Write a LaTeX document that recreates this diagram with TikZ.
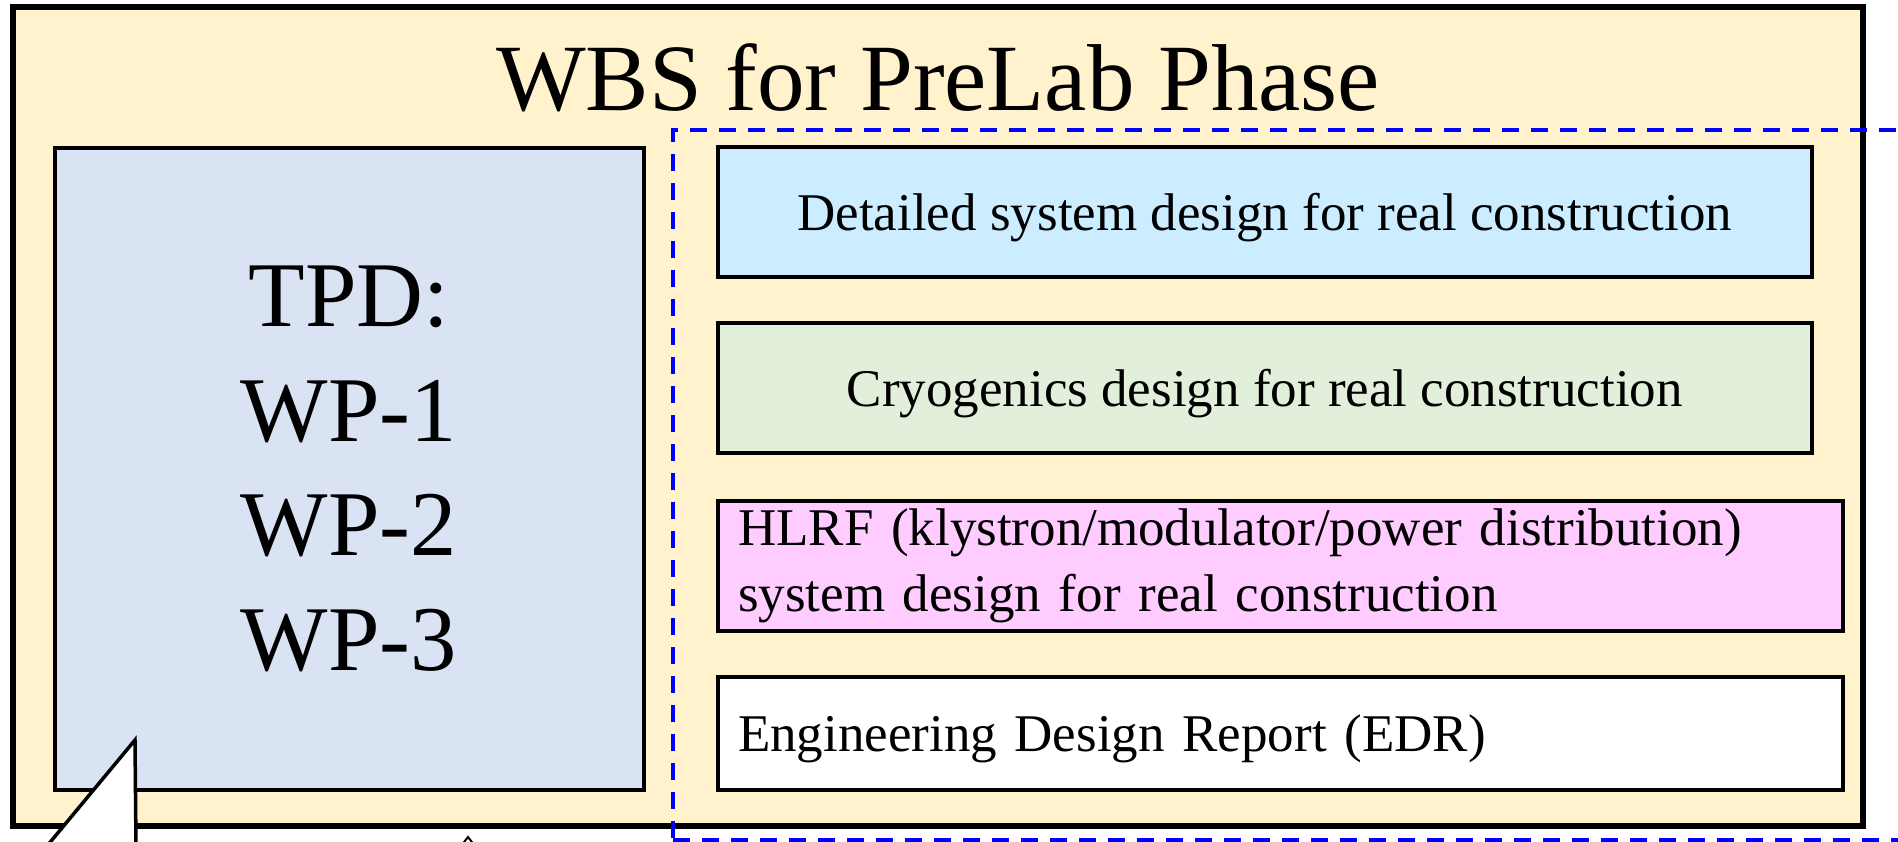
\documentclass[tikz,border=0pt]{standalone}
\usepackage{fontspec}
\setmainfont{Liberation Serif}

\definecolor{wbsyellow}{HTML}{FFF2CC}
\definecolor{tpdblue}{HTML}{DAE3F3}
\definecolor{designblue}{HTML}{CCECFF}
\definecolor{cryogreen}{HTML}{E2EFDA}
\definecolor{hlrfpink}{HTML}{FFCCFF}

\tikzset{
  taskbox/.style={draw=black,line width=4pt,inner sep=0pt,
    font=\fontsize{53}{66}\selectfont},
  oneline/.style={text depth=0pt},
  leftbox/.style={taskbox,inner xsep=20pt,text width=1085pt,align=left},
}

\begin{document}
\begin{tikzpicture}[x=1pt,y=-1pt]
    \useasboundingbox (0,0) rectangle (1898,842);
    \clip (0,0) rectangle (1898,842);

    \node[draw=black,line width=6.5pt,fill=wbsyellow,inner sep=0pt,
      minimum width=1850pt,minimum height=819pt] (wbs) at (938,416.5) {};
    \node[anchor=base,font=\fontsize{95}{114}\selectfont] (title) at (938,111) {WBS for PreLab Phase};

    \node[taskbox,fill=tpdblue,minimum width=589pt,minimum height=642pt,align=center,
      font=\fontsize{92.6}{114.5}\selectfont] (tpd) at (349,469) {TPD:\\WP-1\\WP-2\\WP-3};

    \node[draw=blue,line width=3.5pt,dash pattern=on 17pt off 12pt,inner sep=0pt,
      minimum width=1257pt,minimum height=710pt] (prelab) at (1301.5,485) {};

    \begin{scope}[every node/.style={taskbox,oneline,minimum width=1093.5pt,minimum height=129.5pt}]
      \node[fill=designblue] (detail) at (1264.75,212) {Detailed system design for real construction};
      \node[fill=cryogreen] (cryo) at (1264.75,388) {Cryogenics design for real construction};
    \end{scope}
    \node[leftbox,fill=hlrfpink,minimum height=130pt] (hlrf) at (1280.5,566)
      {HLRF (klystron/modulator/power distribution)\\system design for real construction};
    \node[leftbox,oneline,fill=white,minimum height=113pt] (edr) at (1280.5,733.5) {Engineering Design Report (EDR)};

    % callout pointers
    \draw[line width=3.5pt,fill=white] (47,846) -- (135,740) -- (136,846);
    \draw[line width=2pt,fill=white] (461,846) -- (468,837) -- (475,846);
\end{tikzpicture}
\end{document}
